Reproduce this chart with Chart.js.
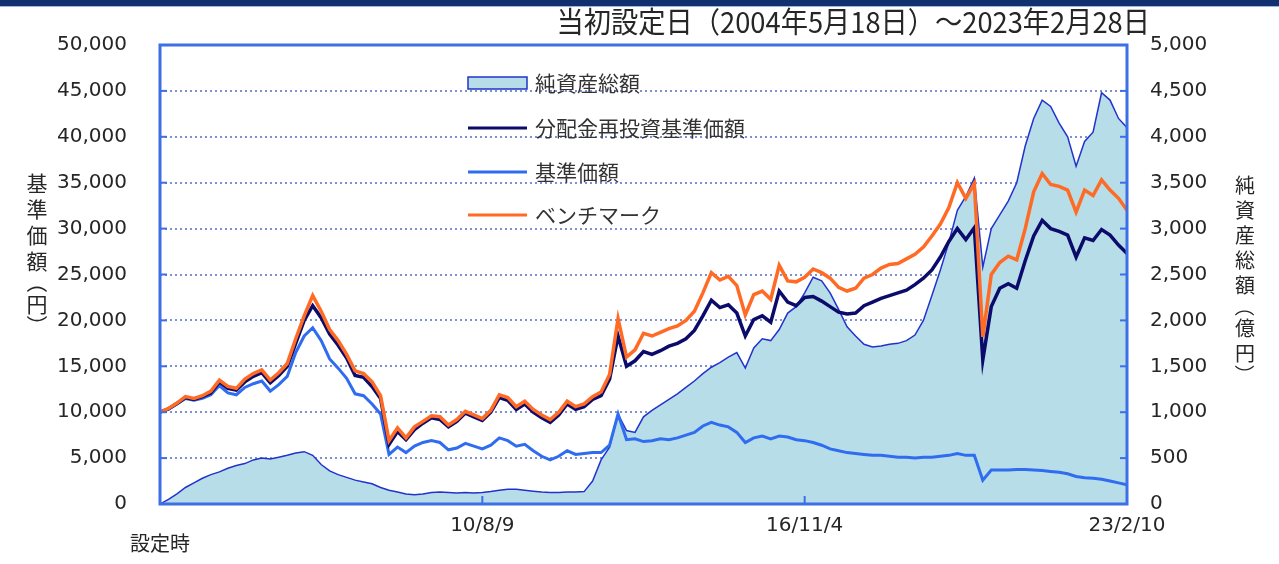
<!DOCTYPE html>
<html lang="ja">
<head>
<meta charset="utf-8">
<title>基準価額・純資産総額の推移</title>
<script src="https://cdn.jsdelivr.net/npm/chart.js@4.4.1/dist/chart.umd.min.js"></script>
<style>
  html, body { margin: 0; padding: 0; background: #fff; }
  #wrap { width: 1279px; height: 564px; position: relative; }
</style>
</head>
<body>
<div id="wrap"><canvas id="navChart" width="1279" height="564"></canvas></div>
<script>
// 当初設定日（2004年5月18日）～2023年2月28日
const periodTitle = '当初設定日（2004年5月18日）～2023年2月28日';
const tickLabels = ['設定時', '10/8/9', '16/11/4', '23/2/10'];
const seriesNames = ['純資産総額', '分配金再投資基準価額', '基準価額', 'ベンチマーク'];

// ベンチマーク（円）
const bench = [10000,10400,11000,11700,11500,11800,12300,13500,12800,12600,
  13600,14200,14600,13500,14300,15300,18000,20500,22700,21000,
  19000,17800,16300,14500,14200,13300,11800,6900,8300,7200,
  8400,9000,9600,9500,8600,9200,10100,9700,9300,10200,
  11900,11600,10600,11200,10300,9700,9200,10000,11200,10600,
  10900,11700,12200,14100,20200,16000,16800,18600,18300,18700,
  19100,19400,20000,21000,23000,25200,24400,24800,23800,20600,
  22800,23200,22300,26000,24300,24200,24700,25600,25200,24600,
  23600,23200,23500,24600,25000,25700,26100,26200,26700,27200,
  28000,29200,30500,32300,35000,33300,34900,18200,25000,26300,
  27000,26600,30000,34000,36000,34800,34600,34200,31800,34200,
  33600,35300,34200,33300,32000];

// 分配金再投資基準価額（円）
const reinv = [10000,10350,10950,11600,11400,11700,12100,13300,12600,12400,
  13300,13900,14300,13200,14000,15000,17500,20000,21600,20300,
  18500,17300,15900,14000,13800,12800,11500,6500,7900,7000,
  8100,8800,9400,9200,8400,9000,9900,9500,9100,10000,
  11600,11300,10300,10900,10000,9400,8900,9700,10900,10300,
  10600,11400,11800,13600,18300,15000,15600,16600,16300,16700,
  17200,17500,18000,18900,20500,22200,21400,21700,20800,18300,
  20100,20500,19800,23200,22000,21600,22500,22600,22100,21500,
  20900,20700,20800,21600,22000,22400,22700,23000,23300,23900,
  24600,25500,26900,28600,30000,28800,30100,15700,21500,23500,
  24000,23500,26500,29200,30900,30000,29700,29300,26900,29000,
  28700,29900,29300,28200,27300];

// 基準価額（円）
const nav = [10000,10350,10900,11500,11300,11500,11900,12900,12100,11900,
  12700,13100,13400,12300,13000,13900,16500,18300,19200,17800,
  15800,14800,13700,12000,11800,10900,9800,5400,6200,5600,
  6300,6700,6900,6700,5900,6100,6600,6300,6000,6400,
  7200,6900,6300,6500,5800,5200,4800,5200,5800,5400,
  5500,5600,5600,6400,9800,7000,7100,6800,6900,7100,
  7000,7200,7500,7800,8500,8900,8600,8400,7800,6700,
  7200,7400,7100,7400,7300,7000,6900,6700,6400,6000,
  5800,5600,5500,5400,5300,5300,5200,5100,5100,5000,
  5100,5100,5200,5300,5500,5300,5300,2600,3700,3700,
  3700,3750,3750,3700,3650,3550,3450,3300,3000,2850,
  2800,2700,2500,2300,2100];

// 純資産総額（億円）
const aum = [0,50,110,180,230,280,320,350,390,420,
  440,480,500,490,510,530,555,570,530,430,
  360,320,290,260,240,220,180,150,130,110,
  100,110,125,130,125,120,125,120,125,135,
  150,160,160,150,140,130,125,125,130,130,
  135,250,480,620,980,800,780,950,1020,1080,
  1140,1200,1270,1340,1420,1490,1540,1600,1650,1480,
  1700,1800,1780,1900,2080,2150,2300,2470,2430,2300,
  2120,1930,1830,1740,1710,1720,1740,1750,1780,1840,
  2000,2270,2550,2850,3200,3350,3550,2580,3000,3150,
  3300,3500,3900,4200,4400,4330,4150,4000,3680,3950,
  4050,4480,4400,4200,4100];

const lastIndex = bench.length - 1;
const labelStep = lastIndex / (tickLabels.length - 1);
const toPoints = arr => arr.map((v, i) => ({ x: i, y: v }));

const numFont = "'DejaVu Sans', 'Noto Sans CJK JP', sans-serif";
const jpFont = "'Noto Sans CJK JP', 'DejaVu Sans', sans-serif";
const frameColor = '#3d6fe6';

function drawStacked(ctx, text, x, y0, size, half, parenHalf) {
  ctx.font = size + 'px ' + jpFont;
  ctx.textAlign = 'center';
  ctx.textBaseline = 'middle';
  let cy = y0, prevHalf = null;
  for (const ch of text) {
    const isParen = ch === '（' || ch === '）';
    const h = isParen ? parenHalf : half;
    if (prevHalf !== null) cy += prevHalf + h;
    if (isParen) {
      ctx.save();
      ctx.translate(x, cy);
      ctx.rotate(Math.PI / 2);
      ctx.fillText(ch, 0, 0);
      ctx.restore();
    } else {
      ctx.fillText(ch, x, cy);
    }
    prevHalf = h;
  }
}

const decor = {
  id: 'decor',
  beforeDraw(chart) {
    const ctx = chart.ctx;
    ctx.save();
    ctx.fillStyle = '#ffffff';
    ctx.fillRect(0, 0, chart.width, chart.height);
    ctx.fillStyle = '#10306f';
    ctx.fillRect(0, 0, chart.width, 6);
    ctx.fillStyle = '#9fb4e0';
    ctx.fillRect(0, 6, chart.width, 1);
    ctx.restore();
  },
  afterDatasetsDraw(chart) {
    const ctx = chart.ctx;
    const a = chart.chartArea;
    const y = chart.scales.y, y2 = chart.scales.y2, x = chart.scales.x;
    ctx.save();
    ctx.strokeStyle = frameColor;
    ctx.lineWidth = 2;
    y.ticks.forEach(t => {
      const py = y.getPixelForValue(t.value);
      ctx.beginPath(); ctx.moveTo(a.left, py); ctx.lineTo(a.left + 7, py); ctx.stroke();
    });
    y2.ticks.forEach(t => {
      const py = y2.getPixelForValue(t.value);
      ctx.beginPath(); ctx.moveTo(a.right - 7, py); ctx.lineTo(a.right, py); ctx.stroke();
    });
    x.ticks.forEach(t => {
      const px = x.getPixelForValue(t.value);
      ctx.beginPath(); ctx.moveTo(px, a.bottom); ctx.lineTo(px, a.bottom - 8); ctx.stroke();
    });
    ctx.lineWidth = 3;
    ctx.strokeRect(a.left, a.top, a.right - a.left, a.bottom - a.top);
    ctx.restore();
  },
  afterDraw(chart) {
    const ctx = chart.ctx;
    ctx.save();
    ctx.fillStyle = '#262626';
    // 期間タイトル（やや縦長の字形）
    ctx.save();
    ctx.font = '29px ' + jpFont;
    ctx.textAlign = 'right';
    ctx.textBaseline = 'middle';
    ctx.scale(0.94, 1);
    ctx.fillText(periodTitle, 1150 / 0.94, 22);
    ctx.restore();
    // 軸タイトル（縦書き）
    drawStacked(ctx, '基準価額（円）', 37, 183, 21, 13, 8.5);
    drawStacked(ctx, '純資産総額（億円）', 1245, 185, 20, 12.5, 9);
    // 凡例
    const rows = [83, 128, 172, 215];
    const order = [3, 1, 2, 0];
    order.forEach((di, k) => {
      const ds = chart.data.datasets[di];
      const ry = rows[k];
      if (ds.fill) {
        ctx.fillStyle = ds.backgroundColor;
        ctx.fillRect(468, ry - 6, 59, 12);
        ctx.strokeStyle = ds.borderColor;
        ctx.lineWidth = 1.5;
        ctx.strokeRect(468, ry - 6, 59, 12);
      } else {
        ctx.strokeStyle = ds.borderColor;
        ctx.lineWidth = 3;
        ctx.beginPath(); ctx.moveTo(468, ry); ctx.lineTo(527, ry); ctx.stroke();
      }
      ctx.fillStyle = '#333333';
      ctx.font = '21px ' + jpFont;
      ctx.textAlign = 'left';
      ctx.textBaseline = 'middle';
      ctx.fillText(ds.label, 535, ry);
    });
    ctx.restore();
  }
};

const ctx = document.getElementById('navChart');
new Chart(ctx, {
  type: 'line',
  data: {
    datasets: [
      { label: seriesNames[3], data: toPoints(bench), yAxisID: 'y', order: 0,
        borderColor: '#ff6b24', borderWidth: 3.5, pointRadius: 0, tension: 0, fill: false },
      { label: seriesNames[1], data: toPoints(reinv), yAxisID: 'y', order: 1,
        borderColor: '#0b0b6c', borderWidth: 3.5, pointRadius: 0, tension: 0, fill: false },
      { label: seriesNames[2], data: toPoints(nav), yAxisID: 'y', order: 2,
        borderColor: '#2f6cf0', borderWidth: 3, pointRadius: 0, tension: 0, fill: false },
      { label: seriesNames[0], data: toPoints(aum), yAxisID: 'y2', order: 3,
        borderColor: '#2233cc', backgroundColor: '#b7dde8', borderWidth: 1.5,
        pointRadius: 0, tension: 0, fill: 'origin' }
    ]
  },
  options: {
    responsive: false,
    animation: false,
    devicePixelRatio: 1,
    layout: { padding: { top: 45, left: 0, right: 0, bottom: 0 } },
    plugins: { legend: { display: false }, tooltip: { enabled: false } },
    scales: {
      x: {
        type: 'linear', min: 0, max: lastIndex,
        grid: { display: false, drawTicks: false },
        border: { display: false },
        ticks: {
          stepSize: labelStep, autoSkip: false, maxRotation: 0, padding: 12,
          color: '#262626', font: { family: numFont, size: 20, lineHeight: 1.0 },
          callback: v => {
            const k = Math.round(v / labelStep);
            if (Math.abs(v - k * labelStep) > 0.01) return '';
            return k === 0 ? ['', tickLabels[k]] : tickLabels[k];
          }
        },
        afterFit: s => { s.height = 60; }
      },
      y: {
        position: 'left', min: 0, max: 50000,
        grid: { color: '#7f90d2', lineWidth: 2, drawTicks: false },
        border: { display: false, dash: [2, 3] },
        ticks: { stepSize: 5000, padding: 33, color: '#262626', font: { family: numFont, size: 20 } },
        afterFit: s => { s.width = 160; }
      },
      y2: {
        position: 'right', min: 0, max: 5000,
        grid: { drawOnChartArea: false, drawTicks: false },
        border: { display: false },
        ticks: { stepSize: 500, padding: 23, color: '#262626', font: { family: numFont, size: 20 } },
        afterFit: s => { s.width = 152; }
      }
    }
  },
  plugins: [decor]
});
</script>
</body>
</html>
